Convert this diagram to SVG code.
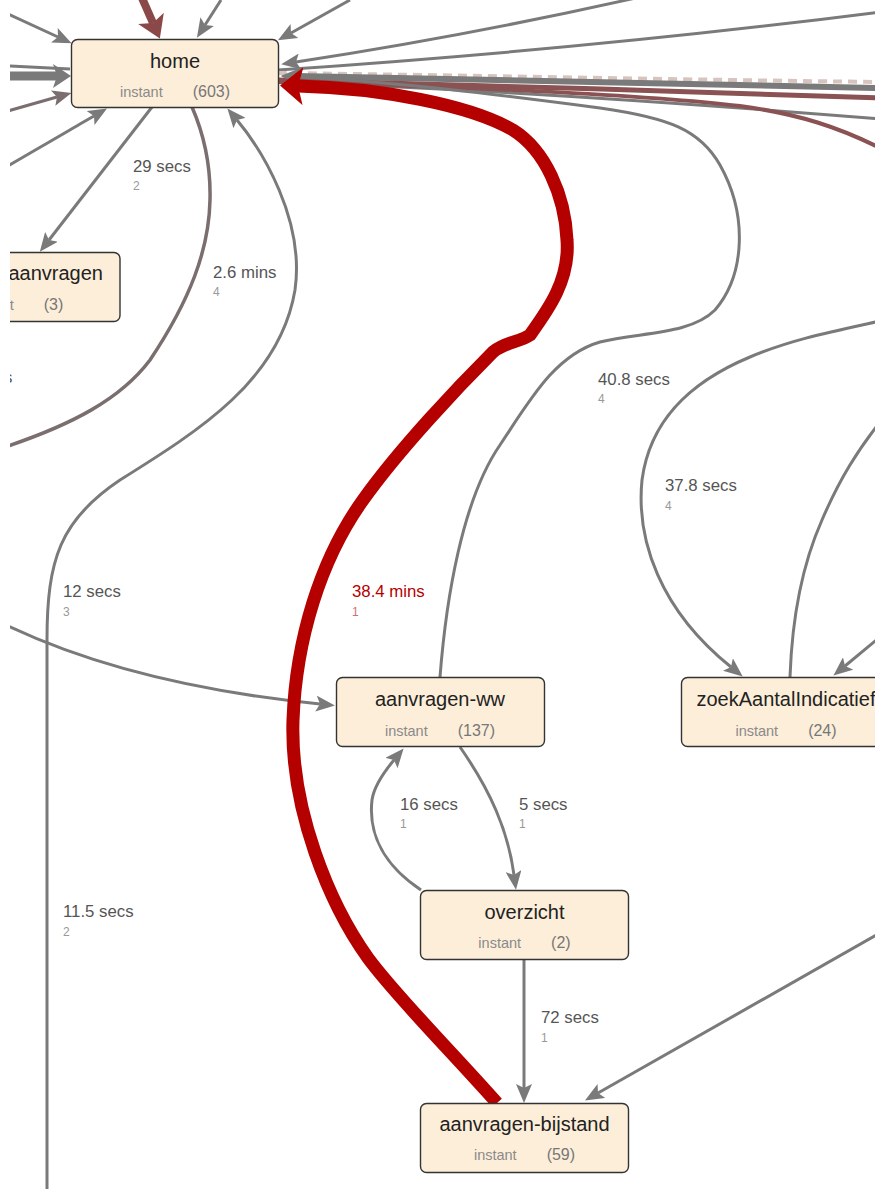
<svg xmlns="http://www.w3.org/2000/svg" width="875" height="1189" viewBox="0 0 875 1189">
  <style>
    .node rect { fill: #fdeed9; stroke: #333; stroke-width: 1.4; }
    .title { font-family: "Liberation Sans", Arial, sans-serif; font-size: 20px; fill: #222; text-anchor: middle; }
    .sub { font-family: "Liberation Sans", Arial, sans-serif; text-anchor: middle; }
    .inst { font-size: 14.5px; fill: #8a8a8a; }
    .cnt { font-size: 16px; fill: #777; }
    .lbl { font-family: "Liberation Sans", Arial, sans-serif; font-size: 16.8px; fill: #555; }
    .num { font-family: "Liberation Sans", Arial, sans-serif; font-size: 12px; fill: #999; }
    .hot { fill: #b50000; }
    .hotnum { fill: #d07070; }
    .e { fill: none; stroke: #7a7a7a; stroke-width: 3; }
    .mv { stroke: #7b6e6e; }
    .mr { stroke: #8a5252; }
  </style>
  <defs>
    <clipPath id="view"><rect x="10" y="0" width="865" height="1189"/></clipPath>
    <marker id="ag" markerUnits="userSpaceOnUse" markerWidth="20" markerHeight="16" refX="4" refY="8" orient="auto">
      <path d="M0,0 L19,8 L0,16 L4,8 z" fill="#7a7a7a"/>
    </marker>
    <marker id="am" markerUnits="userSpaceOnUse" markerWidth="20" markerHeight="16" refX="4" refY="8" orient="auto">
      <path d="M0,0 L19,8 L0,16 L4,8 z" fill="#7b6e6e"/>
    </marker>
    <marker id="agt" markerUnits="userSpaceOnUse" markerWidth="20" markerHeight="24" refX="4" refY="12" orient="auto">
      <path d="M0,0 L18,12 L0,24 L4,12 z" fill="#7a7a7a"/>
    </marker>
    <marker id="amr" markerUnits="userSpaceOnUse" markerWidth="24" markerHeight="28" refX="5" refY="14" orient="auto">
      <path d="M0,0 L22,14 L0,28 L5,14 z" fill="#8a4848"/>
    </marker>
    <marker id="ar" markerUnits="userSpaceOnUse" markerWidth="24" markerHeight="38" refX="5" refY="19" orient="auto">
      <path d="M0,0 L23,19 L0,38 L5,19 z" fill="#b50000"/>
    </marker>
  </defs>

  <g clip-path="url(#view)">
    <g id="connectors">
      <!-- edges entering home from above and from the left -->
      <path class="e" d="M142,-2 L153,23" stroke="#8a4848" style="stroke:#8a4848;stroke-width:8" marker-end="url(#amr)"/>
      <path class="e" d="M221,0 L205,25" marker-end="url(#ag)"/>
      <path class="e" d="M350,0 L291,33" marker-end="url(#ag)"/>
      <path class="e" d="M8,14 L58,37" marker-end="url(#ag)"/>
      <path class="e" d="M8,66 L70,69"/>
      <path class="e" d="M8,76 L57,76" style="stroke-width:9" marker-end="url(#agt)"/>
      <path class="e mv" d="M8,111 L57,97" marker-end="url(#am)"/>
      <path class="e" d="M8,166 C35,150 60,136 80,124 L94,116" marker-end="url(#ag)"/>

      <!-- bundle to the right of home -->
      <path class="e" d="M880,12 C700,35 500,55 278,70"/>
      <path class="e" d="M278,73 C450,75 700,80 880,82" style="stroke:#d7c4be;stroke-width:4;stroke-dasharray:9 6"/>
      <path class="e" d="M880,88 C700,84 450,79 296,76" style="stroke-width:6" marker-end="url(#ag)"/>
      <path class="e mr" d="M278,80 C450,84 700,92 880,98" style="stroke-width:5"/>
      <path class="e" d="M278,82 C450,88 650,100 880,119"/>
      <path class="e mr" d="M278,82 C450,86 650,95 740,106 C800,114 840,128 880,148" style="stroke-width:4"/>
      <path class="e" d="M640,-3 C560,15 440,40 296,62" marker-end="url(#ag)"/>

      <!-- home -> aanvragen (29 secs) -->
      <path class="e" d="M152,107 L49,240" marker-end="url(#ag)"/>
      <!-- curve leaving home to the left (2.6 mins) -->
      <path class="e mv" d="M192,107 C202,130 211,160 210,200 C209,250 190,300 150,360 C120,400 70,425 8,446" style="stroke-width:3.5"/>
      <!-- long edge from below back to home -->
      <path class="e" d="M47,1195 L47,640 C47,560 60,520 120,480 C200,430 280,380 295,290 C305,220 262,150 237,120" marker-end="url(#ag)"/>
      <!-- into aanvragen-ww from the left (12 secs) -->
      <path class="e" d="M8,626 C80,660 180,690 320,704" marker-end="url(#ag)"/>

      <!-- aanvragen-ww -> home (40.8 secs) -->
      <path class="e" d="M440,677 C446,600 462,500 500,445 C530,400 555,355 600,342 C640,332 690,335 715,310 C745,275 748,215 720,165 C700,130 670,118 600,108 C500,95 400,82 296,77" marker-end="url(#ag)"/>

      <!-- zoekAantalIndicatief edges -->
      <path class="e" d="M880,321 C830,332 790,340 750,357 C690,382 650,420 642,480 C636,540 660,610 731,667" marker-end="url(#ag)"/>
      <path class="e" d="M790,677 C792,620 802,565 822,520 C840,478 858,450 880,422"/>
      <path class="e" d="M880,637 L845,666" marker-end="url(#ag)"/>

      <!-- aanvragen-ww <-> overzicht -->
      <path class="e" d="M460,747 C490,790 508,830 514,875" marker-end="url(#ag)"/>
      <path class="e" d="M421,890 C385,866 368,835 372,800 C374,786 384,772 394,760" marker-end="url(#ag)"/>
      <!-- overzicht -> aanvragen-bijstand -->
      <path class="e" d="M524,960 L524,1088" marker-end="url(#ag)"/>
      <!-- from the right into aanvragen-bijstand -->
      <path class="e" d="M880,933 L598,1093" marker-end="url(#ag)"/>

      <!-- aanvragen-bijstand -> home (38.4 mins), the heaviest path -->
      <path d="M497,1103 C450,1050 395,995 368,958 C330,905 290,810 293,720 C296,640 320,560 363,500 C400,448 460,385 493,352 C505,342 520,342 530,335 C548,310 570,280 567,240 C565,195 545,150 513,130 C470,105 380,88 298,86" fill="none" stroke="#b50000" stroke-width="13" marker-end="url(#ar)"/>

      <!-- edge labels -->
      <text class="lbl" x="133" y="172">29 secs</text>
      <text class="num" x="133" y="190">2</text>
      <text class="lbl" x="213" y="278">2.6 mins</text>
      <text class="num" x="213" y="296">4</text>
      <text class="lbl" x="4" y="383">s</text>
      <text class="lbl" x="598" y="385">40.8 secs</text>
      <text class="num" x="598" y="403">4</text>
      <text class="lbl" x="665" y="491">37.8 secs</text>
      <text class="num" x="665" y="510">4</text>
      <text class="lbl" x="63" y="597">12 secs</text>
      <text class="num" x="63" y="616">3</text>
      <text class="lbl hot" x="352" y="597">38.4 mins</text>
      <text class="num hotnum" x="352" y="616">1</text>
      <text class="lbl" x="400" y="810">16 secs</text>
      <text class="num" x="400" y="828">1</text>
      <text class="lbl" x="519" y="810">5 secs</text>
      <text class="num" x="519" y="828">1</text>
      <text class="lbl" x="63" y="917">11.5 secs</text>
      <text class="num" x="63" y="936">2</text>
      <text class="lbl" x="541" y="1023">72 secs</text>
      <text class="num" x="541" y="1042">1</text>
    </g>

    <g id="home" class="node">
      <rect x="71.5" y="39.5" width="207" height="68" rx="6"/>
      <text class="title" x="175" y="68">home</text>
      <text class="sub" x="175" y="97"><tspan class="inst">instant</tspan><tspan class="cnt" dx="30">(603)</tspan></text>
    </g>

    <g id="aanvragen" class="node">
      <rect x="-88" y="252.5" width="208" height="69" rx="6"/>
      <text class="title" x="103" y="280" style="text-anchor:end">aanvragen</text>
      <text class="sub" x="-29" y="310" style="text-anchor:start"><tspan class="inst">instant</tspan><tspan class="cnt" dx="30">(3)</tspan></text>
    </g>

    <g id="aanvragen-ww" class="node">
      <rect x="336.5" y="677.5" width="208" height="69" rx="6"/>
      <text class="title" x="440" y="706">aanvragen-ww</text>
      <text class="sub" x="440" y="736"><tspan class="inst">instant</tspan><tspan class="cnt" dx="30">(137)</tspan></text>
    </g>

    <g id="zoekAantalIndicatief" class="node">
      <rect x="681.5" y="677.5" width="210" height="69" rx="6"/>
      <text class="title" x="786" y="706">zoekAantalIndicatief</text>
      <text class="sub" x="786" y="736"><tspan class="inst">instant</tspan><tspan class="cnt" dx="30">(24)</tspan></text>
    </g>

    <g id="overzicht" class="node">
      <rect x="420.5" y="890.5" width="208" height="69" rx="6"/>
      <text class="title" x="524.5" y="919">overzicht</text>
      <text class="sub" x="524.5" y="948"><tspan class="inst">instant</tspan><tspan class="cnt" dx="30">(2)</tspan></text>
    </g>

    <g id="aanvragen-bijstand" class="node">
      <rect x="420.5" y="1103.5" width="208" height="69" rx="6"/>
      <text class="title" x="524.5" y="1131">aanvragen-bijstand</text>
      <text class="sub" x="524.5" y="1160"><tspan class="inst">instant</tspan><tspan class="cnt" dx="30">(59)</tspan></text>
    </g>
  </g>
</svg>
